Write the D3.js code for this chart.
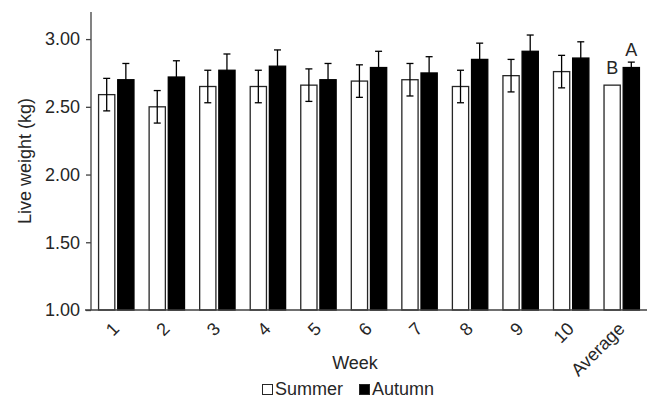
<!DOCTYPE html>
<html>
<head>
<meta charset="utf-8">
<script src="https://cdn.jsdelivr.net/npm/d3@7"></script>
<style>
  body { margin: 0; background: #fff; }
  text { font-family: "Liberation Sans", Arial, sans-serif; fill: #262626; }
</style>
</head>
<body>
<svg id="chart" width="651" height="399"></svg>
<script>
// Week labels and series
const weeks = ["1", "2", "3", "4", "5", "6", "7", "8", "9", "10", "Average"];
const summer = [2.59, 2.50, 2.65, 2.65, 2.66, 2.69, 2.70, 2.65, 2.73, 2.76, 2.66];
const autumn = [2.70, 2.72, 2.77, 2.80, 2.70, 2.79, 2.75, 2.85, 2.91, 2.86, 2.79];
const summerErr = [0.12, 0.12, 0.12, 0.12, 0.12, 0.12, 0.12, 0.12, 0.12, 0.12, 0];
const autumnErr = [0.12, 0.12, 0.12, 0.12, 0.12, 0.12, 0.12, 0.12, 0.12, 0.12, 0.04];
const yTicks = [1.00, 1.50, 2.00, 2.50, 3.00];
const letters = [["B", "summer"], ["A", "autumn"]]; // over the Average bars

let svg = d3.select("#chart"),
    margin = {top: 12, right: 4, bottom: 89, left: 91},
    width = +svg.attr("width") - margin.left - margin.right,
    height = +svg.attr("height") - margin.top - margin.bottom,
    g = svg.append("g").attr("transform", `translate(${margin.left},${margin.top})`);

let x = d3.scaleBand().domain(weeks).range([0, width]).paddingInner(0.28).paddingOuter(0.14);
let x1 = d3.scaleBand().domain(["summer", "autumn"]).range([0, x.bandwidth()]).paddingInner(0.1);
let y = d3.scaleLinear().domain([1, 3.2]).range([height, 0]);

let rows = weeks.map((w, i) => ({
    week: w,
    bars: [
        {key: "summer", v: summer[i], e: summerErr[i]},
        {key: "autumn", v: autumn[i], e: autumnErr[i]}
    ]
}));

let grp = g.selectAll(".grp").data(rows).enter().append("g")
    .attr("transform", d => `translate(${x(d.week)},0)`);

let bar = grp.selectAll(".bar").data(d => d.bars).enter().append("g");

bar.append("rect")
   .attr("x", d => x1(d.key) + 0.5)
   .attr("y", d => y(d.v))
   .attr("width", x1.bandwidth() - 1)
   .attr("height", d => y(1) - y(d.v))
   .attr("fill", d => d.key == "summer" ? "#fff" : "#000")
   .attr("stroke", d => d.key == "summer" ? "#262626" : "#000")
   .attr("stroke-width", 1.3);

// error bars
let eb = bar.filter(d => d.e > 0);
let cx = d => x1(d.key) + x1.bandwidth() / 2;
eb.append("line")
  .attr("x1", cx).attr("x2", cx)
  .attr("y1", d => y(d.v - d.e)).attr("y2", d => y(d.v + d.e))
  .attr("stroke", "#000").attr("stroke-width", 1.3);
eb.selectAll(".cap").data(d => [[d, d.v - d.e], [d, d.v + d.e]])
  .enter().append("line")
  .attr("x1", c => cx(c[0]) - 3.5).attr("x2", c => cx(c[0]) + 3.5)
  .attr("y1", c => y(c[1])).attr("y2", c => y(c[1]))
  .attr("stroke", "#000").attr("stroke-width", 1.3);

// significance letters on the Average group
let last = weeks.length - 1;
letters.forEach(([txt, key]) => {
    let top = key == "summer" ? summer[last] + summerErr[last] : autumn[last] + autumnErr[last];
    g.append("text")
     .attr("x", x(weeks[last]) + x1(key) + x1.bandwidth() / 2)
     .attr("y", y(top) - (key == "summer" ? 11 : 6))
     .attr("text-anchor", "middle")
     .style("font-size", "18px")
     .text(txt);
});

// y axis
let yAxis = g.append("g")
    .call(d3.axisLeft(y).tickValues(yTicks).tickFormat(d3.format(".2f")).tickSize(5).tickPadding(6));
yAxis.select(".domain").attr("stroke", "#404040").attr("stroke-width", 1.3).attr("d", `M0,0V${height}`);
yAxis.selectAll(".tick line").attr("stroke", "#404040").attr("stroke-width", 1.3);
yAxis.selectAll("text").style("font-size", "18px").attr("fill", "#262626");

// x axis
let xAxis = g.append("g")
    .attr("transform", `translate(0,${height})`)
    .call(d3.axisBottom(x).tickSize(0));
xAxis.select(".domain").attr("stroke", "#404040").attr("stroke-width", 1.3).attr("d", `M-6,0H${width}`);
xAxis.selectAll("text")
     .style("font-size", "18px").attr("fill", "#262626")
     .attr("text-anchor", "end")
     .attr("y", 0).attr("dy", 0)
     .attr("transform", "translate(4,20) rotate(-45)");

svg.append("text")
   .attr("x", 31).attr("y", 161)
   .attr("transform", "rotate(-90,31,161)")
   .attr("text-anchor", "middle")
   .style("font-size", "18px")
   .text("Live weight (kg)");

svg.append("text")
   .attr("x", 355).attr("y", 369)
   .attr("text-anchor", "middle")
   .style("font-size", "18px")
   .text("Week");

// legend
let legend = svg.append("g").attr("transform", "translate(262,395)");
let items = [{label: "Summer", fill: "#fff"}, {label: "Autumn", fill: "#000"}];
let li = legend.selectAll("g").data(items).enter().append("g")
    .attr("transform", (d, i) => `translate(${i * 97},0)`);
li.append("rect").attr("x", 0.5).attr("y", -10.5).attr("width", 10).attr("height", 10)
  .attr("fill", d => d.fill).attr("stroke", "#262626");
li.append("text").attr("x", 13).attr("y", 0).style("font-size", "18px").text(d => d.label);
</script>
</body>
</html>
